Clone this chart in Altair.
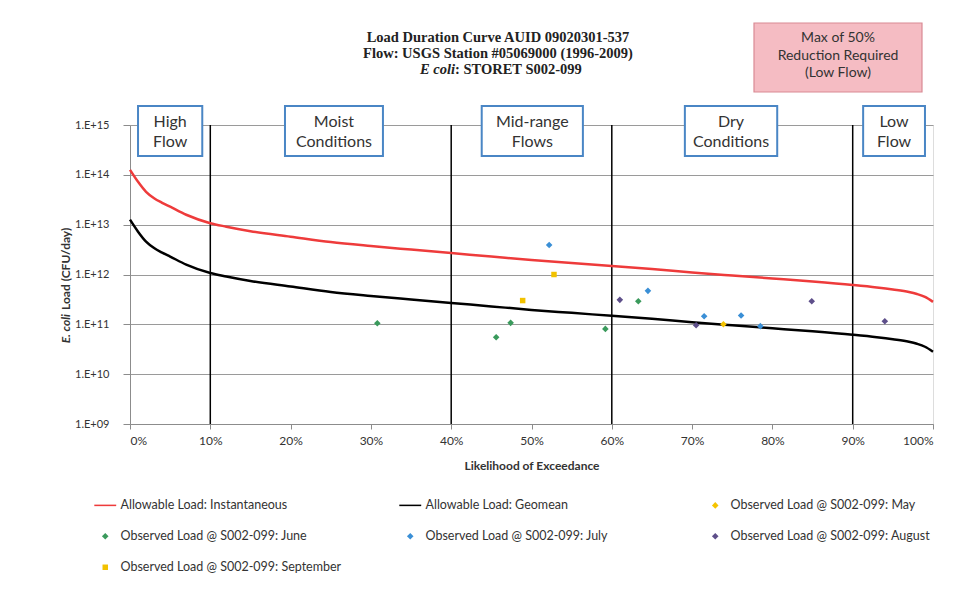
import altair as alt
import pandas as pd

# ---------------- data ----------------
pct = [0, 1, 2, 3, 4, 5, 7, 10, 12, 15, 20, 25, 30, 35, 40, 45, 50, 55, 60, 65, 70,
       75, 80, 85, 90, 93, 95, 97, 98, 99, 100]
instantaneous = [1.26e14, 7.24e13, 4.57e13, 3.39e13, 2.75e13, 2.29e13, 1.58e13, 1.07e13,
                 9.12e12, 7.41e12, 5.75e12, 4.47e12, 3.72e12, 3.16e12, 2.69e12, 2.29e12,
                 1.95e12, 1.70e12, 1.48e12, 1.29e12, 1.10e12, 9.55e11, 8.32e11, 7.24e11,
                 6.17e11, 5.50e11, 5.01e11, 4.47e11, 4.07e11, 3.55e11, 2.82e11]
geomean = [1.26e13, 7.24e12, 4.57e12, 3.39e12, 2.75e12, 2.29e12, 1.58e12, 1.07e12,
           9.12e11, 7.41e11, 5.75e11, 4.47e11, 3.72e11, 3.16e11, 2.69e11, 2.29e11,
           1.95e11, 1.70e11, 1.48e11, 1.29e11, 1.10e11, 9.55e10, 8.32e10, 7.24e10,
           6.17e10, 5.50e10, 5.01e10, 4.47e10, 4.07e10, 3.55e10, 2.82e10]

may_x = [73.9]
may_y = [1.0e11]
june_x = [30.8, 45.6, 47.4, 59.2, 63.3]
june_y = [1.05e11, 5.5e10, 1.07e11, 8.1e10, 2.9e11]
july_x = [52.2, 64.5, 71.5, 76.1, 78.5]
july_y = [3.9e12, 4.7e11, 1.45e11, 1.5e11, 9.2e10]
aug_x = [61.0, 70.5, 84.9, 94.0]
aug_y = [3.1e11, 9.6e10, 2.9e11, 1.15e11]
sep_x = [48.9, 52.8]
sep_y = [3.0e11, 1.0e12]

series_names = [
    "Allowable Load: Instantaneous",
    "Allowable Load: Geomean",
    "Observed Load @ S002-099: May",
    "Observed Load @ S002-099: June",
    "Observed Load @ S002-099: July",
    "Observed Load @ S002-099: August",
    "Observed Load @ S002-099: September",
]
series_colors = ["#ee3b3b", "#000000", "#f5c400", "#3a9a5c", "#3a8fd6", "#5e4f8a", "#f2c200"]
LINE_SYM = "M-2,-0.14H2V0.14H-2Z"
DIAMOND = "M0,-0.6L0.6,0L0,0.6L-0.6,0Z"
SQUARE = "M-0.5,-0.5H0.5V0.5H-0.5Z"
series_shapes = [LINE_SYM, LINE_SYM, DIAMOND, DIAMOND, DIAMOND, DIAMOND, SQUARE]

zone_labels = ["High\nFlow", "Moist\nConditions", "Mid-range\nFlows", "Dry\nConditions", "Low\nFlow"]
zone_x1 = [1.0, 19.3, 43.8, 69.1, 91.3]
zone_x2 = [9.0, 31.5, 56.4, 80.6, 99.0]
divider_x = [10, 40, 60, 90]

y_ticks = [1e9, 1e10, 1e11, 1e12, 1e13, 1e14, 1e15]
x_ticks = [0, 10, 20, 30, 40, 50, 60, 70, 80, 90, 100]

title_lines = ["Load Duration Curve  AUID 09020301-537",
               "Flow: USGS Station #05069000 (1996-2009)"]
note_text = "Max of 50%\nReduction Required\n(Low Flow)"

# ---------------- frames ----------------
curves = pd.concat([
    pd.DataFrame({"pct": pct, "load": instantaneous, "series": series_names[0]}),
    pd.DataFrame({"pct": pct, "load": geomean, "series": series_names[1]}),
])
obs = pd.concat([
    pd.DataFrame({"pct": may_x, "load": may_y, "series": series_names[2]}),
    pd.DataFrame({"pct": june_x, "load": june_y, "series": series_names[3]}),
    pd.DataFrame({"pct": july_x, "load": july_y, "series": series_names[4]}),
    pd.DataFrame({"pct": aug_x, "load": aug_y, "series": series_names[5]}),
    pd.DataFrame({"pct": sep_x, "load": sep_y, "series": series_names[6]}),
])
zones = pd.DataFrame({"label": zone_labels, "x1": zone_x1, "x2": zone_x2})
dividers = pd.DataFrame({"x": divider_x})
one = pd.DataFrame({"a": [0]})

FONT = "Lato"
SERIF = "Liberation Serif"
LBL = "#333333"

xscale = alt.Scale(domain=[0, 100], nice=False)
yscale = alt.Scale(type="log", domain=[1e9, 1e15], nice=False)

legend = alt.Legend(
    title=None, orient="none", legendX=-31, legendY=374, columns=3, direction="horizontal",
    values=series_names,
    gridAlign="all", columnPadding=57, rowPadding=18,
    labelFont=FONT, labelFontSize=12.5, labelColor=LBL, labelLimit=400,
    symbolSize=120, labelOffset=9, symbolStrokeWidth=0,
)
color = alt.Color("series:N", scale=alt.Scale(domain=series_names, range=series_colors), legend=legend)
shape = alt.Shape("series:N", scale=alt.Scale(domain=series_names, range=series_shapes), legend=legend)

x_axis = alt.Axis(values=x_ticks, labelExpr="datum.value + '%'", title="Likelihood of Exceedance",
                  grid=False, labelFont=FONT, labelFontSize=12, labelColor=LBL, titleFont=FONT,
                  titleFontSize=12, titleFontWeight="bold", titleColor=LBL, titlePadding=14,
                  domainColor="#8c8c8c", tickColor="#8c8c8c", tickSize=5, labelPadding=6)
y_axis = alt.Axis(values=y_ticks, labelExpr="'1.E+' + format(round(log(datum.value)/LN10), '02d')",
                  title=None, grid=True, gridColor="#9a9a9a", gridWidth=1,
                  labelFont=FONT, labelFontSize=11, labelColor=LBL,
                  domainColor="#8c8c8c", tickColor="#8c8c8c", tickSize=7, labelPadding=14)

grid_layer = alt.Chart(curves).mark_line(opacity=0).encode(
    x=alt.X("pct:Q", scale=xscale, axis=x_axis),
    y=alt.Y("load:Q", scale=yscale, axis=y_axis),
)

div_layer = alt.Chart(dividers).mark_rule(color="#000000", strokeWidth=1.5).encode(
    x=alt.X("x:Q", scale=xscale), y=alt.value(0), y2=alt.value(299))

line_layer = alt.Chart(curves).mark_line(strokeWidth=2.5, interpolate="monotone").encode(
    x=alt.X("pct:Q", scale=xscale),
    y=alt.Y("load:Q", scale=yscale),
    color=color,
)

point_layer = alt.Chart(obs).mark_point(filled=True, opacity=1, size=120, strokeWidth=0).encode(
    x=alt.X("pct:Q", scale=xscale),
    y=alt.Y("load:Q", scale=yscale),
    color=color,
    shape=shape,
)

zone_box = alt.Chart(zones).mark_rect(fill="white", stroke="#4a86c5", strokeWidth=2).encode(
    x=alt.X("x1:Q", scale=xscale), x2="x2:Q", y=alt.value(-19), y2=alt.value(31))
zone_text = alt.Chart(zones).transform_calculate(mid="(datum.x1 + datum.x2) / 2").mark_text(
    font=FONT, fontSize=16, color=LBL, lineBreak="\n", lineHeight=20, baseline="middle"
).encode(x=alt.X("mid:Q", scale=xscale), y=alt.value(-3), text="label:N")

note_box = alt.Chart(one).mark_rect(fill="#f5bcc3", stroke="#d98a94", strokeWidth=1.2).encode(
    x=alt.value(624), x2=alt.value(792), y=alt.value(-102), y2=alt.value(-33))
note_text_layer = alt.Chart(one).mark_text(
    font=FONT, fontSize=14, color=LBL, lineBreak="\n", lineHeight=17.5, baseline="middle"
).encode(x=alt.value(708), y=alt.value(-87), text=alt.value(note_text))

TS = 14.5
t1 = alt.Chart(one).mark_text(font=SERIF, fontSize=TS, fontWeight="bold", color="#222222",
                              baseline="middle").encode(
    x=alt.value(368), y=alt.value(-87), text=alt.value(title_lines[0]))
t2 = alt.Chart(one).mark_text(font=SERIF, fontSize=TS, fontWeight="bold", color="#222222",
                              baseline="middle").encode(
    x=alt.value(368), y=alt.value(-71), text=alt.value(title_lines[1]))
t3a = alt.Chart(one).mark_text(font=SERIF, fontSize=TS, fontWeight="bold", fontStyle="italic",
                               color="#222222", baseline="middle", align="right").encode(
    x=alt.value(325), y=alt.value(-55), text=alt.value("E coli"))
t3b = alt.Chart(one).mark_text(font=SERIF, fontSize=TS, fontWeight="bold",
                               color="#222222", baseline="middle", align="left").encode(
    x=alt.value(325), y=alt.value(-55), text=alt.value(": STORET S002-099"))

ya = alt.Chart(one).mark_text(font=FONT, fontSize=12, fontWeight="bold", fontStyle="italic",
                              color=LBL, baseline="middle", align="right", angle=270).encode(
    x=alt.value(-64), y=alt.value(189), text=alt.value("E. coli"))
yb = alt.Chart(one).mark_text(font=FONT, fontSize=12, fontWeight="bold",
                              color=LBL, baseline="middle", align="left", angle=270).encode(
    x=alt.value(-64), y=alt.value(185), text=alt.value("Load (CFU/day)"))

chart = alt.layer(
    grid_layer, div_layer, line_layer, point_layer, zone_box, zone_text,
    note_box, note_text_layer, t1, t2, t3a, t3b, ya, yb,
).properties(
    width=803, height=299,
    autosize=alt.AutoSizeParams(type="none"),
    padding={"left": 122, "top": 117, "right": 25, "bottom": 165},
).configure_view(stroke=None).configure(background="white")

chart.save("out.html", embed_options={"renderer": "svg", "actions": False})
